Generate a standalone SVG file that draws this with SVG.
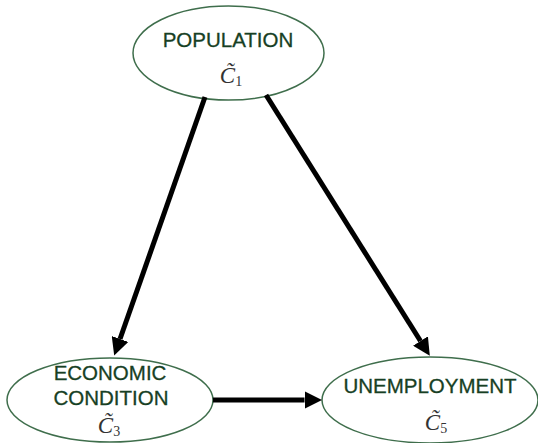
<svg xmlns="http://www.w3.org/2000/svg" width="538" height="443" viewBox="0 0 538 443">
<style>
.node ellipse{fill:#fff;stroke:#3f6e4c;stroke-width:1.5}
.lbl{font-family:"Liberation Sans",Arial,sans-serif;font-size:20.5px;fill:#173f24;stroke:#173f24;stroke-width:0.3;text-anchor:middle}
.sym{font-family:"Liberation Serif","Times New Roman",serif;font-size:23px;fill:#333;text-anchor:middle;font-style:italic}
.sub{font-style:normal;font-size:14px}
.conn line{stroke:#000;stroke-width:5}
</style>
<defs>
<marker id="ah" markerWidth="3.5" markerHeight="3.5" refX="0" refY="5" orient="auto" markerUnits="strokeWidth" viewBox="0 0 10 10">
<path d="M0,0 L10,5 L0,10 z" fill="#000"/>
</marker>
</defs>
<rect width="538" height="443" fill="#fff"/>
<g id="population" class="node">
<ellipse cx="228.5" cy="53" rx="95.5" ry="47"/>
<text class="lbl" x="228" y="47">POPULATION</text>
<text class="sym" x="231" y="83">C&#771;<tspan class="sub" dy="3">1</tspan></text>
</g>
<g id="economic" class="node">
<ellipse cx="110" cy="400" rx="103" ry="42"/>
<text class="lbl" x="110" y="380">ECONOMIC</text>
<text class="lbl" x="111" y="405">CONDITION</text>
<text class="sym" x="109" y="433">C&#771;<tspan class="sub" dy="3">3</tspan></text>
</g>
<g id="unemployment" class="node">
<ellipse cx="430" cy="400" rx="108" ry="43"/>
<text class="lbl" x="430" y="393">UNEMPLOYMENT</text>
<text class="sym" x="436" y="430">C&#771;<tspan class="sub" dy="3">5</tspan></text>
</g>
<g id="connectors" class="conn">
<line x1="205" y1="97" x2="120" y2="339" marker-end="url(#ah)"/>
<line x1="266" y1="95" x2="420.5" y2="341" marker-end="url(#ah)"/>
<line x1="213" y1="400" x2="304.5" y2="400" marker-end="url(#ah)"/>
</g>
</svg>
